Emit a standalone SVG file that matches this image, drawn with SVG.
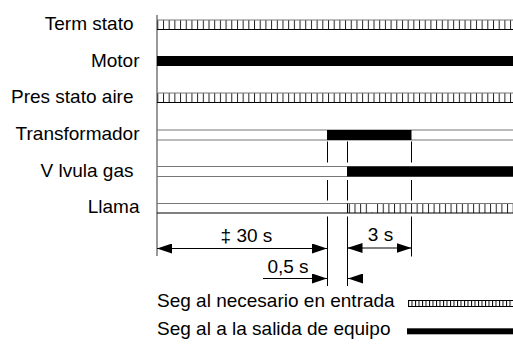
<svg xmlns="http://www.w3.org/2000/svg" width="513" height="347" viewBox="0 0 513 347">
<style>
text{font-family:"Liberation Sans",Arial,sans-serif;font-size:19px;fill:#000}
.lbl{text-anchor:end}
.edge{stroke:#777;stroke-width:1}
.edgeb{stroke:#000;stroke-width:1}
.dim{stroke:#000;stroke-width:1;fill:none}
.ax{stroke:#808080;stroke-width:1.6}
</style>
<defs>
<pattern id="hatch" width="5.69" height="10" patternUnits="userSpaceOnUse" x="157.3">
<line x1="0.5" y1="0" x2="0.5" y2="10" stroke="#222" stroke-width="1"/>
</pattern>
<pattern id="hatchL" width="5.65" height="10" patternUnits="userSpaceOnUse" x="354.5">
<line x1="0.5" y1="0" x2="0.5" y2="10" stroke="#222" stroke-width="1"/>
</pattern>
<pattern id="hatchS" width="3.5" height="10" patternUnits="userSpaceOnUse" x="408">
<line x1="0.5" y1="0" x2="0.5" y2="10" stroke="#000" stroke-width="1"/>
</pattern>
<marker id="ah" markerWidth="15" markerHeight="10" refX="15" refY="5" orient="auto-start-reverse" markerUnits="userSpaceOnUse">
<path d="M0,0 L15,5 L0,10 Z" fill="#000"/>
</marker>
</defs>

<g id="axis">
<line class="ax" x1="157" y1="15" x2="157" y2="256"/>
</g>

<g id="row-termostato">
<text class="lbl" x="133.5" y="30">Term stato</text>
<rect x="157" y="20" width="356" height="9.5" fill="url(#hatch)"/>
<line class="edge" x1="157" y1="20" x2="513" y2="20"/>
<line class="edgeb" x1="157" y1="29.5" x2="513" y2="29.5"/>
</g>

<g id="row-motor">
<text class="lbl" x="139.5" y="66.5">Motor</text>
<rect x="157" y="56" width="356" height="10" fill="#000"/>
</g>

<g id="row-presostato">
<text class="lbl" x="133.5" y="103">Pres stato aire</text>
<rect x="157" y="93" width="356" height="9.5" fill="url(#hatch)"/>
<line class="edge" x1="157" y1="93" x2="513" y2="93"/>
<line class="edgeb" x1="157" y1="102.5" x2="513" y2="102.5"/>
</g>

<g id="row-transformador">
<text class="lbl" x="139.5" y="140">Transformador</text>
<line class="edge" x1="157" y1="130" x2="513" y2="130"/>
<line class="edge" x1="157" y1="140" x2="513" y2="140"/>
<rect x="327" y="130" width="84.5" height="10" fill="#000"/>
</g>

<g id="row-valvula">
<text class="lbl" x="133.5" y="176.5">V lvula gas</text>
<line class="edge" x1="157" y1="166.5" x2="513" y2="166.5"/>
<line class="edge" x1="157" y1="176.5" x2="513" y2="176.5"/>
<rect x="347" y="166.5" width="166" height="10" fill="#000"/>
</g>

<g id="row-llama">
<text class="lbl" x="139.5" y="213">Llama</text>
<rect x="347" y="203.5" width="166" height="9.5" fill="url(#hatchL)"/>
<rect x="370" y="204" width="5" height="8.5" fill="#fff"/>
<line class="edge" x1="157" y1="203.5" x2="513" y2="203.5"/>
<line class="edgeb" x1="157" y1="213" x2="513" y2="213"/>
<line class="edgeb" x1="347.5" y1="203.5" x2="347.5" y2="213"/>
</g>

<g id="connectors">
<line class="dim" x1="327.5" y1="141.5" x2="327.5" y2="162.5"/>
<line class="dim" x1="327.5" y1="180" x2="327.5" y2="200.5"/>
<line class="dim" x1="347.5" y1="141.5" x2="347.5" y2="162.5"/>
<line class="dim" x1="347.5" y1="180" x2="347.5" y2="200.5"/>
<line class="dim" x1="411.5" y1="141.5" x2="411.5" y2="162.5"/>
<line class="dim" x1="411.5" y1="180" x2="411.5" y2="200.5"/>
<line class="dim" x1="327.5" y1="216.5" x2="327.5" y2="286"/>
<line class="dim" x1="347.5" y1="216.5" x2="347.5" y2="286"/>
<line class="dim" x1="411.5" y1="216.5" x2="411.5" y2="256.5"/>
<line class="dim" x1="157" y1="248.5" x2="327" y2="248.5" marker-start="url(#ah)" marker-end="url(#ah)"/>
<line class="dim" x1="347.5" y1="248" x2="411.5" y2="248" marker-start="url(#ah)" marker-end="url(#ah)"/>
<line class="dim" x1="263" y1="278.5" x2="327" y2="278.5" marker-end="url(#ah)"/>
<line class="dim" x1="362" y1="278.5" x2="348" y2="278.5" marker-end="url(#ah)"/>
</g>

<g id="dim-labels">
<text x="246.5" y="242" text-anchor="middle">‡ 30 s</text>
<text x="380.5" y="241" text-anchor="middle">3 s</text>
<text x="288" y="273" text-anchor="middle">0,5 s</text>
</g>

<g id="legend">
<text x="157" y="307">Seg al necesario en entrada</text>
<rect x="408" y="300.5" width="105" height="6" fill="url(#hatchS)"/>
<line class="edgeb" x1="408" y1="300.5" x2="513" y2="300.5"/>
<line class="edgeb" x1="408" y1="306.5" x2="513" y2="306.5"/>
<text x="157" y="335">Seg al a la salida de equipo</text>
<rect x="407" y="328.3" width="106" height="6" fill="#000"/>
</g>
</svg>
